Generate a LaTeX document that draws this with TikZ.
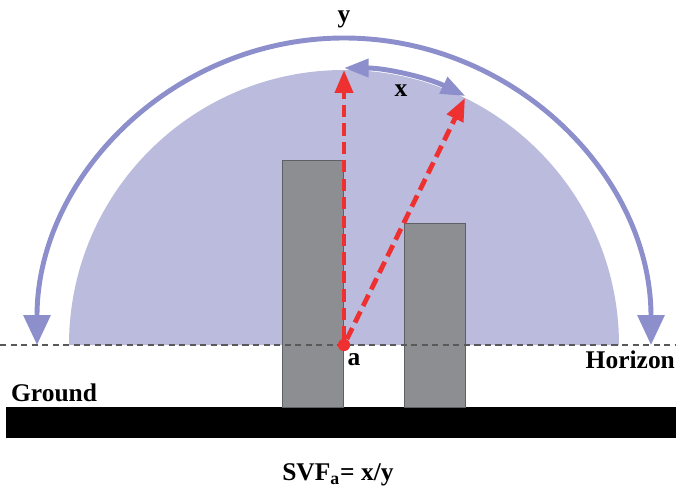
\documentclass[tikz,border=0pt]{standalone}
\usepackage{fontspec}
\setmainfont{Liberation Serif}
\usetikzlibrary{arrows.meta}
\definecolor{domefill}{HTML}{BBBBDD}
\definecolor{arcblue}{HTML}{8C8FCB}
\definecolor{bldgray}{HTML}{8C8E91}
\definecolor{bldedge}{HTML}{5E6064}
\definecolor{rayred}{HTML}{EE3030}

\begin{document}
\begin{tikzpicture}[
		x=0.02cm, y=0.02cm,
		lbl/.style={font=\fontsize{14.5}{16}\selectfont\bfseries, inner sep=1pt},
		building/.style={fill=bldgray, draw=bldedge, line width=0.5pt},
		dot/.style={circle, fill=rayred, inner sep=0pt, minimum size=7pt},
		ray/.style={draw=rayred, line width=2.7pt, dash pattern=on 7pt off 3.5pt,
			-{Triangle[length=13pt, width=10pt, fill=rayred]}},
		skyarc/.style={draw=arcblue, line width=2.8pt,
			{Triangle[length=17pt, width=15pt]}-{Triangle[length=17pt, width=15pt]}},
		viewarc/.style={draw=arcblue, line width=2.8pt,
			{Triangle[length=14pt, width=10pt]}-{Triangle[length=14pt, width=10pt]}}
		]
		\useasboundingbox (0,0) rectangle (676,491);
		
		% ==========================================
		% 1. Sky dome and ground
		% ==========================================
		\fill[domefill] (69,146) arc[start angle=180, end angle=0, radius=275] -- cycle;
		\fill[black] (6,53) rectangle (676,84);
		
		% Buildings
		\draw[building] (282,84) rectangle (343,331);
		\draw[building] (404,84) rectangle (465,268);
		
		% Horizon line
		\draw[gray!70!black, line width=0.6pt, dash pattern=on 3.5pt off 2.5pt] (0,146) -- (676,146);
		
		% ==========================================
		% 2. Arcs x and y
		% ==========================================
		\draw[skyarc] (37,146) arc[start angle=180, end angle=0, radius=307];
		\node[lbl] (ylbl) at (344,472) {y};
		
		\draw[viewarc] (344,423) arc[start angle=90, end angle=64, radius=277];
		\node[lbl] (xlbl) at (401,400) {x};
		
		% ==========================================
		% 3. Point a and its rays
		% ==========================================
		\node[dot] (a) at (344,146) {};
		\coordinate (zen) at (344,421);
		\coordinate (gap) at (465,393);
		\draw[ray] (a) -- (zen);
		\draw[ray] (a) -- (gap);
		\node[lbl] (albl) at (354,131) {a};
		
		% Texts
		\node[lbl, anchor=west] (ground) at (9,98) {Ground};
		\node[lbl, anchor=east] (horizon) at (677,131) {Horizon};
		\node[lbl] (svf) at (338,16) {SVF\textsubscript{a}= x/y};
		
	\end{tikzpicture}
\end{document}
